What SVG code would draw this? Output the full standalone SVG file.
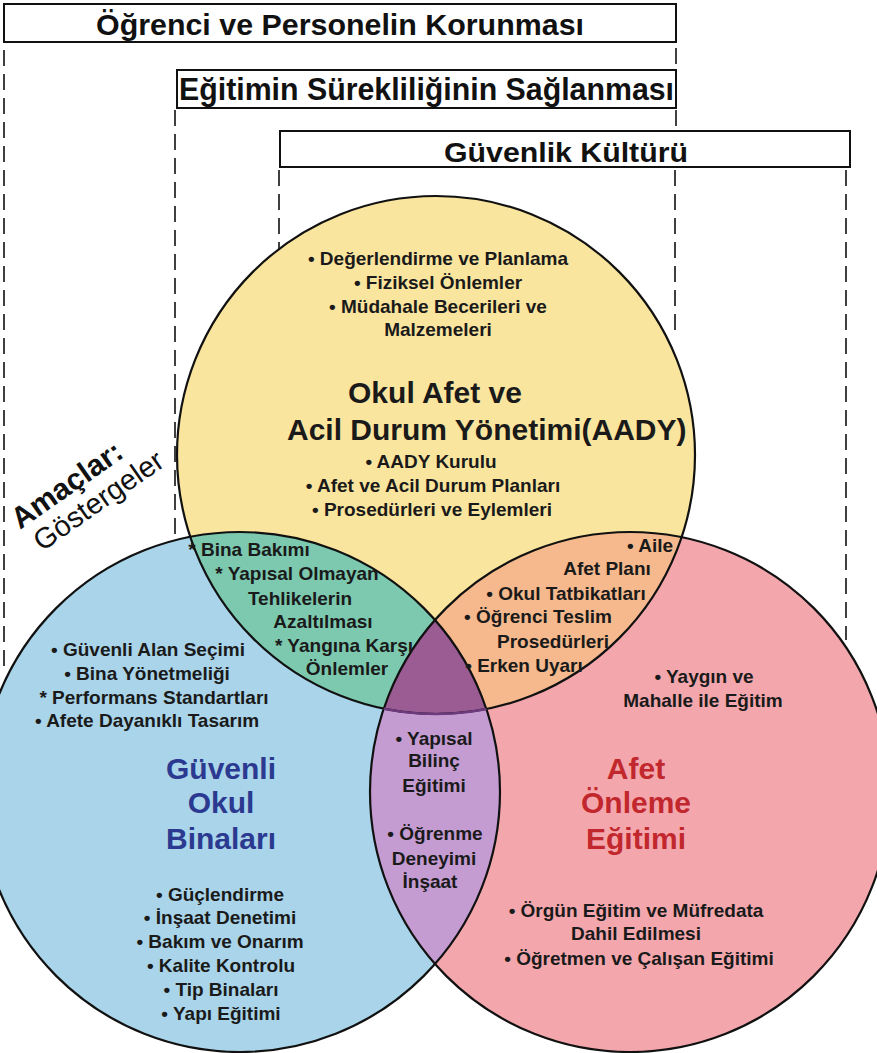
<svg xmlns="http://www.w3.org/2000/svg" width="877" height="1053" viewBox="0 0 877 1053">
<style>
.bx{fill:#fff;stroke:#111;stroke-width:2}
.ban{font-family:"Liberation Sans Narrow","Liberation Sans",Arial,sans-serif;font-weight:bold;fill:#111}
.dash{stroke:#111;stroke-width:1.6;stroke-dasharray:16 8;fill:none}
.ring{fill:none;stroke:#111;stroke-width:2.2}
.t{font-family:"Liberation Sans",Arial,sans-serif;font-weight:bold;font-size:19px;fill:#1a1a1a;text-anchor:middle}
.h{font-family:"Liberation Sans",Arial,sans-serif;font-weight:bold;font-size:30px;fill:#1a1a1a}
.hb{font-family:"Liberation Sans",Arial,sans-serif;font-weight:bold;font-size:30px;fill:#2B3990;text-anchor:middle}
.hr{font-family:"Liberation Sans",Arial,sans-serif;font-weight:bold;font-size:30px;fill:#C1272D;text-anchor:middle}
</style>
<defs>
<clipPath id="cB"><circle cx="240" cy="792" r="260"/></clipPath>
<clipPath id="cR"><circle cx="630" cy="792" r="260"/></clipPath>
</defs>
<rect width="877" height="1053" fill="#fff"/>

<g id="connectors">
<line class="dash" x1="4" y1="50" x2="4" y2="668"/>
<line class="dash" x1="175" y1="110" x2="175" y2="540"/>
<line class="dash" x1="279" y1="170" x2="279" y2="262"/>
<line class="dash" x1="676" y1="48" x2="676" y2="70"/>
<line class="dash" x1="676" y1="110" x2="676" y2="130"/>
<line class="dash" x1="675" y1="170" x2="675" y2="334"/>
<line class="dash" x1="846" y1="170" x2="846" y2="640"/>
</g>

<g id="banner-1">
<rect class="bx" x="4" y="4" width="672" height="38"/>
<text class="ban" x="96" y="35" font-size="30" textLength="488" lengthAdjust="spacingAndGlyphs">Öğrenci ve Personelin Korunması</text>
</g>
<g id="banner-2">
<rect class="bx" x="177" y="70" width="499" height="38"/>
<text class="ban" x="179" y="100" font-size="32" textLength="495" lengthAdjust="spacingAndGlyphs">Eğitimin Sürekliliğinin Sağlanması</text>
</g>
<g id="banner-3">
<rect class="bx" x="280" y="131" width="570" height="36"/>
<text class="ban" x="444" y="162" font-size="28" textLength="244" lengthAdjust="spacingAndGlyphs">Güvenlik Kültürü</text>
</g>

<g id="circles">
<circle cx="436" cy="455" r="259" fill="#FAE59E"/>
<circle cx="240" cy="792" r="260" fill="#A9D4E9"/>
<circle cx="630" cy="792" r="260" fill="#F3A7AD"/>
<g clip-path="url(#cB)"><circle cx="436" cy="455" r="259" fill="#7CC9B0"/></g>
<g clip-path="url(#cR)"><circle cx="436" cy="455" r="259" fill="#F5B98D"/></g>
<g clip-path="url(#cR)"><circle cx="240" cy="792" r="260" fill="#C49CD2"/></g>
<g clip-path="url(#cR)"><g clip-path="url(#cB)"><circle cx="436" cy="455" r="259" fill="#9A5C92"/></g></g>
<circle class="ring" cx="436" cy="455" r="259"/>
<circle class="ring" cx="240" cy="792" r="260"/>
<circle class="ring" cx="630" cy="792" r="260"/>
<g clip-path="url(#cR)"><g clip-path="url(#cB)"><circle cx="436" cy="455" r="259" fill="none" stroke="#6E3A7E" stroke-width="2.6"/></g></g>
</g>

<g id="node-aady">
<text class="t" x="438" y="265">• Değerlendirme ve Planlama</text>
<text class="t" x="438" y="289">•  Fiziksel Önlemler</text>
<text class="t" x="438" y="313">• Müdahale Becerileri ve</text>
<text class="t" x="438" y="336">Malzemeleri</text>
<text class="h" x="435" y="403" text-anchor="middle">Okul Afet ve</text>
<text class="h" x="287" y="440">Acil Durum Yönetimi<tspan>(AADY)</tspan></text>
<text class="t" x="431" y="468">•  AADY Kurulu</text>
<text class="t" x="433" y="492">• Afet ve Acil Durum Planları</text>
<text class="t" x="432" y="516">• Prosedürleri ve Eylemleri</text>
</g>

<g id="node-yellow-blue">
<text class="t" x="249" y="556">* Bina Bakımı</text>
<text class="t" x="297" y="580">* Yapısal Olmayan</text>
<text class="t" x="300" y="605">Tehlikelerin</text>
<text class="t" x="323" y="628">Azaltılması</text>
<text class="t" x="344" y="652">* Yangına Karşı</text>
<text class="t" x="347" y="675">Önlemler</text>
</g>

<g id="node-yellow-red">
<text class="t" x="650" y="552">• Aile</text>
<text class="t" x="607" y="575">Afet Planı</text>
<text class="t" x="566" y="600">• Okul Tatbikatları</text>
<text class="t" x="538" y="623">• Öğrenci Teslim</text>
<text class="t" x="553" y="648">Prosedürleri</text>
<text class="t" x="524" y="672">• Erken Uyarı</text>
</g>

<g id="node-blue-red">
<text class="t" x="434" y="745">• Yapısal</text>
<text class="t" x="434" y="767">Bilinç</text>
<text class="t" x="434" y="792">Eğitimi</text>
<text class="t" x="435" y="840">• Öğrenme</text>
<text class="t" x="434" y="865">Deneyimi</text>
<text class="t" x="430" y="888">İnşaat</text>
</g>

<g id="node-safe-buildings">
<text class="t" x="148" y="656">• Güvenli Alan Seçimi</text>
<text class="t" x="147" y="680">• Bina Yönetmeliği</text>
<text class="t" x="154" y="704">* Performans Standartları</text>
<text class="t" x="147" y="727">• Afete Dayanıklı Tasarım</text>
<text class="hb" x="221" y="779">Güvenli</text>
<text class="hb" x="221" y="813">Okul</text>
<text class="hb" x="221" y="849">Binaları</text>
<text class="t" x="220" y="901">• Güçlendirme</text>
<text class="t" x="220" y="924">• İnşaat Denetimi</text>
<text class="t" x="220" y="948">• Bakım ve Onarım</text>
<text class="t" x="221" y="972">• Kalite Kontrolu</text>
<text class="t" x="221" y="996">• Tip Binaları</text>
<text class="t" x="221" y="1020">• Yapı Eğitimi</text>
</g>

<g id="node-prevention-education">
<text class="t" x="704" y="683">• Yaygın ve</text>
<text class="t" x="703" y="707">Mahalle ile Eğitim</text>
<text class="hr" x="636" y="779">Afet</text>
<text class="hr" x="636" y="813">Önleme</text>
<text class="hr" x="636" y="849">Eğitimi</text>
<text class="t" x="636" y="917">• Örgün Eğitim ve Müfredata</text>
<text class="t" x="636" y="940">Dahil Edilmesi</text>
<text class="t" x="639" y="965">• Öğretmen ve Çalışan Eğitimi</text>
</g>

<g id="legend">
<text x="20" y="530" transform="rotate(-35 20 530)" font-family="Liberation Sans, Arial, sans-serif" font-weight="bold" font-size="30" fill="#111">Amaçlar:</text>
<text x="42" y="552" transform="rotate(-35 42 552)" font-family="Liberation Sans, Arial, sans-serif" font-size="29" fill="#111">Göstergeler</text>
</g>
</svg>
